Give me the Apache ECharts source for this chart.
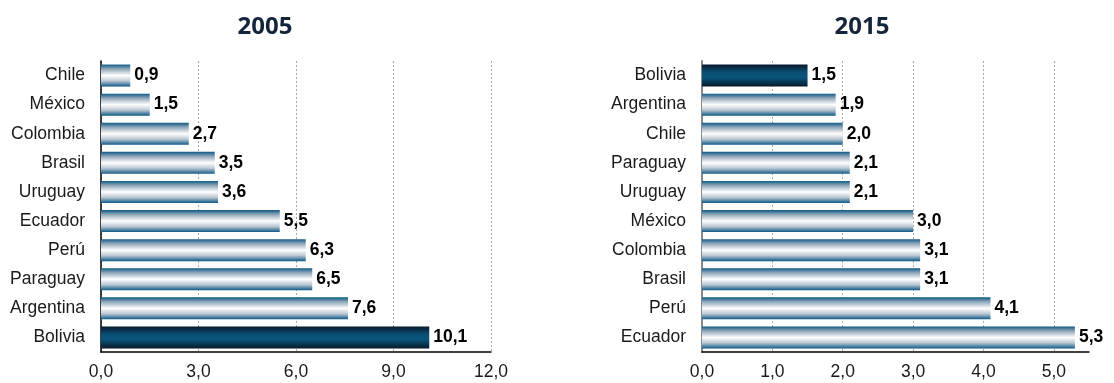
<!DOCTYPE html>
<html><head><meta charset="utf-8">
<script src="https://cdn.jsdelivr.net/npm/echarts@6/dist/echarts.min.js"></script>
<style>html,body{margin:0;padding:0;background:#fff}#c{width:1114px;height:383px}</style>
</head><body><div id="c"></div>
<script>
var cats2005 = ['Chile','México','Colombia','Brasil','Uruguay','Ecuador','Perú','Paraguay','Argentina','Bolivia'];
var vals2005 = [0.9,1.5,2.7,3.5,3.6,5.5,6.3,6.5,7.6,10.1];
var cats2015 = ['Bolivia','Argentina','Chile','Paraguay','Uruguay','México','Colombia','Brasil','Perú','Ecuador'];
var vals2015 = [1.5,1.9,2.0,2.1,2.1,3.0,3.1,3.1,4.1,5.3];
var highlight = 'Bolivia';
var titles = ['2005','2015'];

function grad(hi){
  if(hi) return new echarts.graphic.LinearGradient(0,0,0,1,[
    {offset:0,color:'#07182a'},{offset:0.35,color:'#0a4f74'},{offset:0.6,color:'#0b557b'},{offset:1,color:'#07182a'}]);
  return new echarts.graphic.LinearGradient(0,0,0,1,[
    {offset:0,color:'#0d5a86'},{offset:0.2,color:'#8fa5b8'},{offset:0.5,color:'#ffffff'},{offset:0.75,color:'#b9c6d2'},{offset:1,color:'#0d5a86'}]);
}
function mkData(cats, vals){
  return vals.map(function(v,i){ return {value:v, itemStyle:{color:grad(cats[i]===highlight)}}; });
}
var fmt = function(v){ return v.toFixed(1).replace('.',','); };
var chart = echarts.init(document.getElementById('c'), null, {renderer:'canvas'});
var FF = '"Liberation Sans", Arial, sans-serif';
var labelFont = {fontFamily:FF, fontSize:17.5, color:'#1a1a1a'};
var valLabel = {show:true, position:'right', distance:4, formatter:function(p){return fmt(p.value);}, fontFamily:FF, fontWeight:'bold', fontSize:17.5, color:'#000'};
chart.setOption({
  animation:false,
  title:[
    {text:titles[0], left:260, top:10, textAlign:'center', textStyle:{fontFamily:'"Open Sans"', fontWeight:'bold', fontSize:24, color:'#14243a'}},
    {text:titles[1], left:857, top:10, textAlign:'center', textStyle:{fontFamily:'"Open Sans"', fontWeight:'bold', fontSize:24, color:'#14243a'}}
  ],
  grid:[
    {left:101, width:390, top:61, height:291},
    {left:702, width:387, top:61, height:291}
  ],
  xAxis:[
    {gridIndex:0, type:'value', min:0, max:12, interval:3,
     axisLine:{show:true, lineStyle:{color:'#000', width:1.5}}, axisTick:{show:false},
     axisLabel:Object.assign({formatter:fmt, margin:11}, labelFont),
     splitLine:{show:true, lineStyle:{color:'#aaa', type:[2,2], width:1}}},
    {gridIndex:1, type:'value', min:0, max:5.5, interval:1,
     axisLine:{show:true, lineStyle:{color:'#000', width:1.5}}, axisTick:{show:false},
     axisLabel:Object.assign({formatter:function(v){return v>5.2?'':fmt(v);}, margin:11, showMaxLabel:false}, labelFont),
     splitLine:{show:true, showMaxLine:false, lineStyle:{color:'#aaa', type:[2,2], width:1}}}
  ],
  yAxis:[
    {gridIndex:0, type:'category', data:cats2005, inverse:true,
     axisLine:{show:true, lineStyle:{color:'#000', width:1.5}}, axisTick:{show:false},
     axisLabel:Object.assign({margin:16}, labelFont)},
    {gridIndex:1, type:'category', data:cats2015, inverse:true,
     axisLine:{show:true, lineStyle:{color:'#888', width:2}}, axisTick:{show:false},
     axisLabel:Object.assign({margin:16}, labelFont)}
  ],
  series:[
    {type:'bar', xAxisIndex:0, yAxisIndex:0, data:mkData(cats2005, vals2005), barWidth:22, label:valLabel},
    {type:'bar', xAxisIndex:1, yAxisIndex:1, data:mkData(cats2015, vals2015), barWidth:22, label:valLabel}
  ]
});
</script></body></html>
